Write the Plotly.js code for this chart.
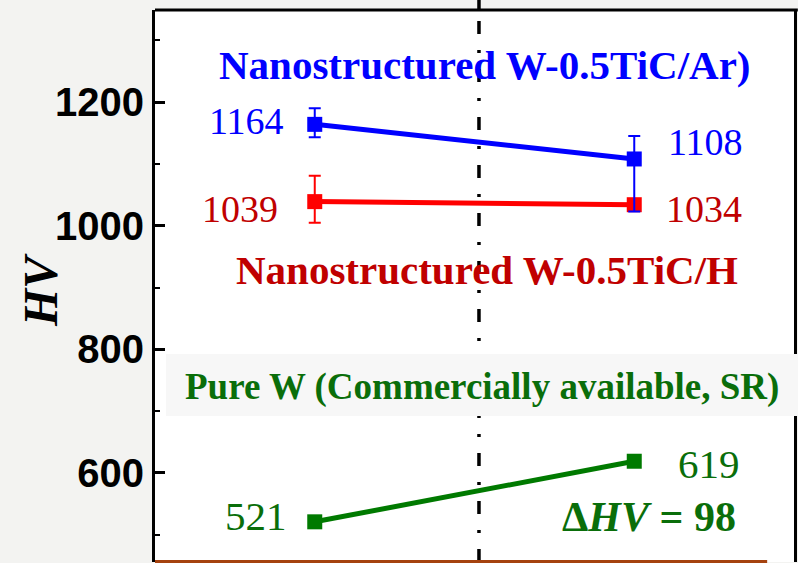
<!DOCTYPE html>
<html><head><meta charset="utf-8">
<script src="https://cdn.plot.ly/plotly-3.0.1.min.js"></script>
<style>html,body{margin:0;padding:0;background:#f3f3f1;overflow:hidden}</style>
</head><body><div id="chart" style="width:798px;height:563px"></div>
<script>
// ---- data ----
const positions = [1, 2];
const arHV = [1164, 1108];
const arErrPlus = [26, 37];
const arErrMinus = [21, 85];
const hHV = [1039, 1034];
const hErrPlus = [42, 0];
const hErrMinus = [34, 0];
const pureHV = [521, 619];
const seriesNames = ['Nanostructured W-0.5TiC/Ar)', 'Nanostructured W-0.5TiC/H', 'Pure W (Commercially available, SR)'];
const yAxisTitle = 'HV';

const serif = 'Liberation Serif, Times New Roman, serif';
const blue = '#0000ff', red = '#ff0000', darkRed = '#c00000', green = '#007a00', darkGreen = '#0a6e0a';

function tr(y, color, name, ep, em) {
  const t = {
    x: positions, y: y, name: name, type: 'scatter', mode: 'lines+markers',
    line: {color: color, width: 5},
    marker: {symbol: 'square', size: 15, color: color},
    showlegend: false, hoverinfo: 'x+y'
  };
  if (ep) t.error_y = {type: 'data', symmetric: false, array: ep, arrayminus: em, color: color, thickness: 2, width: 6};
  return t;
}
const data = [
  tr(pureHV, green, seriesNames[2]),
  tr(hHV, red, seriesNames[1], hErrPlus, hErrMinus),
  tr(arHV, blue, seriesNames[0], arErrPlus, arErrMinus)
];

function valLabel(x, y, color, size, dx, dy) {
  return {x: x, y: y, xref: 'x', yref: 'y', text: String(y), showarrow: false,
    xanchor: 'center', yanchor: 'middle', xshift: dx, yshift: dy,
    font: {family: serif, size: size, color: color}};
}
function paperText(x, y, text, size, color, extra) {
  return Object.assign({xref: 'paper', yref: 'paper', x: x, y: y, text: text, showarrow: false,
    xanchor: 'center', yanchor: 'middle',
    font: {family: serif, size: size, color: color, weight: 700}}, extra || {});
}
const delta = pureHV[1] - pureHV[0];
const annotations = [
  paperText(0.5164, 0.9004, seriesNames[0], 41, blue),
  paperText(0.5196, 0.529, seriesNames[1], 41, darkRed),
  paperText(0.5117, 0.317, seriesNames[2], 37, darkGreen),
  paperText(0.773, 0.0815, 'Δ<i>HV</i> = ' + delta, 42, darkGreen),
  paperText(-0.1784, 0.4928, '<i>' + yAxisTitle + '</i>', 48, '#000', {textangle: -90}),
  valLabel(positions[0], arHV[0], blue, 38, -68, 3),
  valLabel(positions[1], arHV[1], blue, 38, 71, 17),
  valLabel(positions[0], hHV[0], darkRed, 38, -75, -7),
  valLabel(positions[1], hHV[1], darkRed, 38, 70, -4),
  valLabel(positions[0], pureHV[0], darkGreen, 41, -59, 6),
  valLabel(positions[1], pureHV[1], darkGreen, 41, 75, -3)
];

const shapes = [
  // dash-dot divider
  {type: 'line', xref: 'x', yref: 'paper', x0: 1.514, x1: 1.514, y0: 0, y1: 1, layer: 'above',
   line: {color: '#000', width: 3.5, dash: '13px,16px,3px,16px'}},
  {type: 'line', xref: 'x', yref: 'paper', x0: 1.514, x1: 1.514, y0: 1, y1: 1.02, layer: 'above',
   line: {color: '#000', width: 3.5}},
  // top frame
  {type: 'line', xref: 'paper', yref: 'paper', x0: 0, x1: 1.006, y0: 1, y1: 1, layer: 'above',
   line: {color: '#000', width: 3}},
  // bottom brown line
  {type: 'line', xref: 'paper', yref: 'paper', x0: 0, x1: 0.958, y0: 0.001, y1: 0.001, layer: 'above',
   line: {color: '#a5420f', width: 3}},
  // label box for pure W
  {type: 'rect', xref: 'paper', yref: 'paper', x0: 0.0172, x1: 1.01, y0: 0.2645, y1: 0.377, layer: 'above',
   fillcolor: '#f7f7f7', line: {width: 0}}
];

const layout = {
  width: 798, height: 563,
  margin: {l: 155, r: 4, t: 10, b: 1},
  paper_bgcolor: '#f3f3f1', plot_bgcolor: '#ffffff',
  xaxis: {range: [0.5, 2.5], showgrid: false, zeroline: false, showline: false,
          showticklabels: false, ticks: ''},
  yaxis: {range: [456, 1349], tick0: 0, dtick: 200, showgrid: false, zeroline: false,
          showline: true, linewidth: 3, linecolor: '#000', mirror: true,
          ticks: 'inside', ticklen: 10, tickwidth: 3, tickcolor: '#000',
          minor: {dtick: 100, ticks: 'inside', ticklen: 5, tickwidth: 2, tickcolor: '#000'},
          tickfont: {family: 'Liberation Sans, Arial, sans-serif', size: 40, color: '#000', weight: 700}},
  shapes: shapes,
  annotations: annotations
};
Plotly.newPlot('chart', data, layout, {displayModeBar: false, staticPlot: true});
</script></body></html>
